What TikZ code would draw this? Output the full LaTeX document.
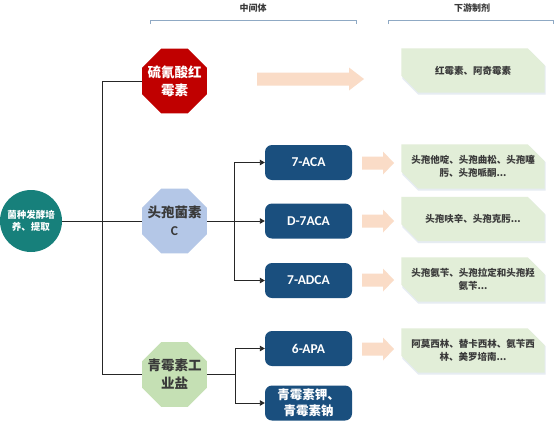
\documentclass[tikz,border=0pt]{standalone}
\usepackage{fontspec}
\setmainfont{Noto Sans CJK SC}
\newfontfamily\latf{Carlito}
\usetikzlibrary{shapes.geometric,arrows.meta,backgrounds}
\definecolor{redoct}{HTML}{C00000}
\definecolor{blueoct}{HTML}{B4C7E7}
\definecolor{greenoct}{HTML}{C5E0B4}
\definecolor{rootc}{HTML}{17807B}
\definecolor{boxblue}{HTML}{1A4F7E}
\definecolor{gboxc}{HTML}{E2EED8}
\definecolor{gshadow}{HTML}{E6ECF2}
\definecolor{peach}{HTML}{FADCC7}
\definecolor{brk}{HTML}{8FA9C4}
\definecolor{txt}{HTML}{3A3A3A}
\newcommand\peacharrow[6]{\fill[peach] (#1,#3-#4) -- (#2-#6,#3-#4) -- (#2-#6,#3-#5) -- (#2,#3) -- (#2-#6,#3+#5) -- (#2-#6,#3+#4) -- (#1,#3+#4) -- cycle;}
\newcommand\gshape[1]{%
  \fill[gshadow] ([shift={(1,2)}]#1.north west) -- ([shift={(-15,2)}]#1.north east) -- ([shift={(1,18)}]#1.north east) -- ([shift={(1,2)}]#1.south east) -- ([shift={(17,2)}]#1.south west) -- ([shift={(1,-14)}]#1.south west) -- cycle;
  \fill[gboxc] (#1.north west) -- ([shift={(-17,0)}]#1.north east) -- ([shift={(0,17)}]#1.north east) -- (#1.south east) -- ([shift={(17,0)}]#1.south west) -- ([shift={(0,-17)}]#1.south west) -- cycle;}
\begin{document}
\begin{tikzpicture}[x=1pt,y=-1pt,
  oct/.style={regular polygon, regular polygon sides=8, minimum size=70pt, inner sep=0pt, draw=none},
  octtxt/.style={font=\bfseries\fontsize{13.5}{18}\selectfont, align=center, inner sep=0pt},
  bbox/.style={rounded corners=7pt, fill=boxblue, minimum width=87pt, minimum height=35pt, text=white, align=center, inner sep=0pt},
  gtxt/.style={minimum width=143pt, minimum height=44pt, text width=130pt, align=center, font=\bfseries\fontsize{9.5}{13}\selectfont, text=txt, inner sep=0pt},
  hdr/.style={font=\bfseries\fontsize{9}{11}\selectfont, text=txt, inner sep=0pt},
  conn/.style={draw=black!85, line width=0.9pt},
  arr/.style={conn, -{Triangle[length=5pt,width=5.5pt]}},
  brkline/.style={draw=brk, line width=0.9pt}]
\useasboundingbox (0,0) rectangle (554,421);

% headers
\node[hdr] (h1) at (253,8) {中间体};
\node[hdr] (h2) at (472,8) {下游制剂};
\draw[brkline] (150,24) -- (150,20) -- (356,20) -- (356,24);
\draw[brkline] (388,24) -- (388,20) -- (553,20) -- (553,24);

% root
\node[circle, fill=rootc, minimum size=62pt, inner sep=0pt, text=white, align=center, font=\bfseries\fontsize{9.5}{12}\selectfont] (root) at (31,221) {菌种发酵培\\养、提取};

% octagons
\node[oct, fill=redoct] (red) at (174.5,81) {};
\node[octtxt, text=white] (redt) at (red.center) {硫氰酸红\\霉素};
\node[oct, fill=blueoct] (ceph) at (174.5,221) {};
\node[octtxt, text=txt] (cepht) at (ceph.center) {头孢菌素\\{\latf\bfseries C}};
\node[oct, fill=greenoct] (pen) at (174.5,374.5) {};
\node[octtxt, text=txt] (pent) at (pen.center) {青霉素工\\业盐};

% blue boxes
\node[bbox, font=\latf\bfseries\fontsize{13.5}{16}\selectfont] (aca7) at (308.5,162.5) {7-ACA};
\node[bbox, font=\latf\bfseries\fontsize{13.5}{16}\selectfont] (d7) at (308.5,221) {D-7ACA};
\node[bbox, font=\latf\bfseries\fontsize{13.5}{16}\selectfont] (adca) at (308.5,280.5) {7-ADCA};
\node[bbox, font=\latf\bfseries\fontsize{13.5}{16}\selectfont] (apa) at (308.5,348.5) {6-APA};
\node[bbox, font=\bfseries\fontsize{12.5}{16}\selectfont] (kna) at (308.5,403) {青霉素钾、\\青霉素钠};

% green boxes
\node[gtxt] (g1) at (473,70.5) {红霉素、阿奇霉素};
\node[gtxt] (g2) at (473,166.5) {头孢他啶、头孢曲松、头孢噻\\肟、头孢哌酮...};
\node[gtxt] (g3) at (473,219) {头孢呋辛、头孢克肟...};
\node[gtxt] (g4) at (473,279.5) {头孢氨苄、头孢拉定和头孢羟\\氨苄...};
\node[gtxt] (g5) at (473,350.5) {阿莫西林、替卡西林、氨苄西\\林、美罗培南...};
\begin{scope}[on background layer]
\fill[white] (0,0) rectangle (554,421);
\gshape{g1}\gshape{g2}\gshape{g3}\gshape{g4}\gshape{g5}
\end{scope}

% peach arrows
\peacharrow{257}{364}{79}{6.5}{11.5}{15}
\peacharrow{362}{394}{163}{6.5}{11.5}{11}
\peacharrow{362}{394}{221}{6.5}{11.5}{11}
\peacharrow{362}{394}{280}{6.5}{11.5}{11}
\peacharrow{362}{394}{349}{6.5}{11.5}{11}

% connectors
\coordinate (trunk) at (102,0);
\coordinate (cb) at (234,0);
\coordinate (pb) at (235,0);
\draw[conn] (root.east) -- (ceph.west);
\draw[conn] (red.west) -- (red.west -| trunk) -- (pen.west -| trunk) -- (pen.west);
\draw[arr] (ceph.east) -- (d7.west);
\draw[arr] (ceph.east -| cb) |- (aca7.west);
\draw[arr] (ceph.east -| cb) |- (adca.west);
\draw[conn] (pen.east) -- (pen.east -| pb);
\draw[arr] (pen.east -| pb) |- (apa.west);
\draw[arr] (pen.east -| pb) |- (kna.west);
\end{tikzpicture}
\end{document}
